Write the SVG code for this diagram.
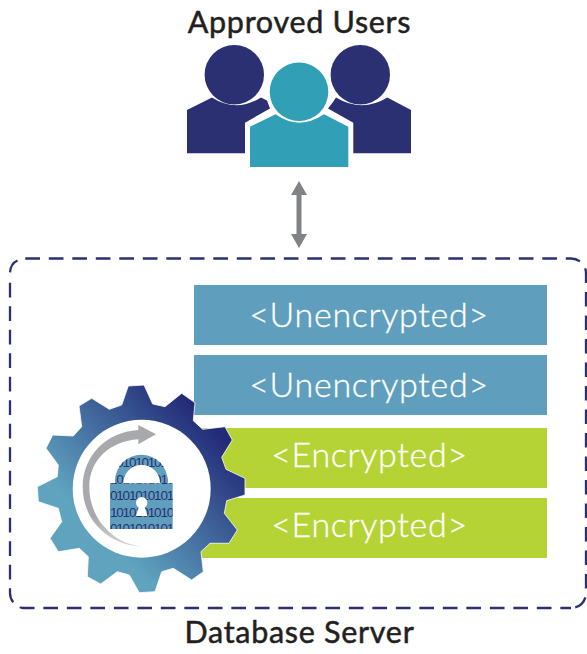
<svg xmlns="http://www.w3.org/2000/svg" width="587" height="654" viewBox="0 0 587 654">
<style>
.lbl{font-family:"Lato","Liberation Sans",sans-serif;text-anchor:middle}
.title{font-size:30.500px;fill:#231f20;letter-spacing:.7px;stroke:#231f20;stroke-width:.5px}
.row{font-size:34px;fill:#fff;stroke:#fff;stroke-width:.35px;font-weight:300;letter-spacing:.7px}
.blue{fill:#5f9fbd}.green{fill:#b5d334}.navy{fill:#2a3072}.teal{fill:#319fb5}
.bin{font-family:"Liberation Sans",sans-serif;font-size:13.500px;fill:#2a3072;text-anchor:middle;letter-spacing:-1.200px}
</style>
<defs>
<linearGradient id="gearGrad" gradientUnits="userSpaceOnUse" x1="80" y1="560" x2="215" y2="430">
<stop offset="0" stop-color="#5fa3bf"/><stop offset=".18" stop-color="#5fa3bf"/><stop offset="1" stop-color="#232b78"/>
</linearGradient>
<linearGradient id="swoosh" gradientUnits="userSpaceOnUse" x1="130" y1="430" x2="140" y2="548">
<stop offset="0" stop-color="#a7a9ac"/><stop offset=".7" stop-color="#a7a9ac"/><stop offset="1" stop-color="#d8d9da"/>
</linearGradient>
<clipPath id="lockClip"><path d="M115 483.300V481A26.300 26.300 0 0 1 167.700 481V483.300Z"/><rect x="110" y="483.300" width="62.700" height="45.700"/></clipPath>
</defs>
<path id="server-frame" fill="none" stroke="#2a3072" stroke-width="2.300" stroke-dasharray="14.700 8.800" d="M25.300 258.500H571A15 15 0 0 1 586 273.500V593A15 15 0 0 1 571 608M17.500 260.500Q10 264 10 273.500M10 282.700V593A15 15 0 0 0 13.500 602.500M20 607Q21 608 23 608H571"/>
<g id="connectors">
<path d="M299 181L307 195H301.500V234H307L299 248L291 234H296.500V195H291Z" fill="#808285"/>
</g>
<g id="approved-users">
<text class="lbl title" x="299.500" y="33">Approved Users</text>
<circle class="navy" cx="234.300" cy="74.700" r="29.700"/>
<circle class="navy" cx="360.300" cy="74.700" r="29.700"/>
<path class="navy" d="M187 110L212 97.500Q236 113 261 97.500L267 100.500L270 108.500L245 122.700V153.300H187Z"/>
<path class="navy" d="M411 110L387.300 97.500Q362 113 336 97.500L333 102L328 108.500L353.300 122.700V153.300H411Z"/>
<circle class="teal" cx="299" cy="91.700" r="29.300"/>
<path class="teal" d="M250 126.700L275.700 114.300Q299 131 324 114.300L348.300 126.700V167H250Z"/>
</g>
<g id="row-unencrypted-1">
<rect class="blue" x="194" y="285" width="353" height="60"/>
<text class="lbl row" x="369" y="326.500">&lt;Unencrypted&gt;</text>
</g>
<g id="row-unencrypted-2">
<rect class="blue" x="194" y="355" width="353" height="60"/>
<text class="lbl row" x="369" y="396.500">&lt;Unencrypted&gt;</text>
</g>
<g id="row-encrypted-1">
<rect class="green" x="200" y="428" width="347" height="60"/>
<text class="lbl row" x="369.500" y="467">&lt;Encrypted&gt;</text>
</g>
<g id="row-encrypted-2">
<rect class="green" x="200" y="498" width="347" height="60"/>
<text class="lbl row" x="369.500" y="537">&lt;Encrypted&gt;</text>
</g>
<g id="encryption-gear">
<polygon fill="url(#gearGrad)" stroke="#fff" stroke-width=".8" points="128.300,386 144,385 152.700,404 165,406.700 181.700,393.300 195,402.700 193.300,420.700 202.700,429.300 225,426.700 232.300,440 221.700,457.300 226,469.300 245,478.300 245,495 226.700,500.700 224.300,513.300 237.300,530 229,543.300 210,543.300 201,551.700 203.300,571.700 191.700,580 173.300,568.300 161.700,571.700 155,591.700 139.300,592.700 129.300,575 117.300,571.700 100.700,584 87.300,576.700 88.300,556.700 79.300,548.300 58.300,551.700 50,538.300 61.700,521.700 58.300,508.300 38.300,501.700 37.300,486.700 57.300,476.700 58.300,465 46,448.300 52.700,435 73.300,436 81.700,426.700 79,406 91.700,398.300 109.300,409.300 121.700,405"/>
<circle cx="141.700" cy="488.700" r="69" fill="#fff"/>
<path d="M138.300 430C105 432 82.700 457 82.700 487C82.700 520 108 545 141.700 546.700C112 543 89.300 518 89.300 487C89.300 460 110 441 138.300 439.300V444.300L156 434.300L138.300 425Z" fill="url(#swoosh)"/>
<path d="M110 483.300H172.700V529H110Z" class="blue"/>
<path d="M115 483.300V481A26.300 26.300 0 0 1 167.700 481V483.300Z" class="blue"/>
<g clip-path="url(#lockClip)">
<text class="bin" x="141.500" y="467.300">01010101</text>
<text class="bin" x="141.500" y="484">1010101010</text>
<text class="bin" x="141.500" y="500">0101010101</text>
<text class="bin" x="141.500" y="516.700">1010101010</text>
<text class="bin" x="141.500" y="533">0101010101</text>
</g>
<path d="M123.300 483.300A18.300 18.300 0 0 1 160 483.300Z" fill="#fff"/>
<circle cx="141.700" cy="502.700" r="5.700" fill="#fff"/>
<path d="M139.500 505L136 516H147.500L144 505Z" fill="#fff"/>
</g>
<g id="database-server">
<text class="lbl title" x="299.500" y="643">Database Server</text>
</g>
</svg>
